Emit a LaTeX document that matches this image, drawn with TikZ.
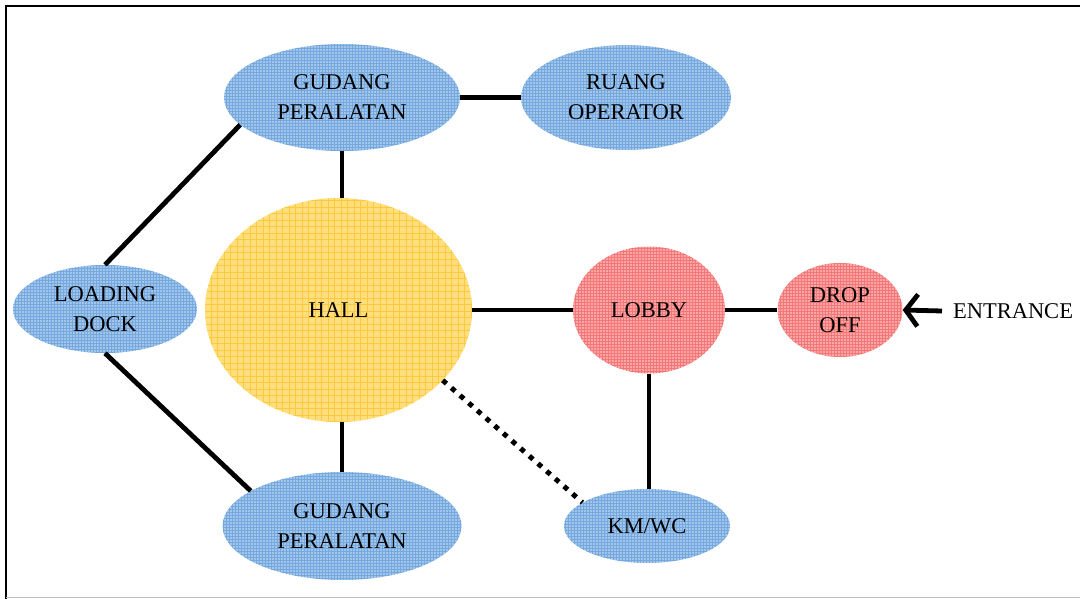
\documentclass[tikz,border=0pt]{standalone}
\usepackage{fontspec}
\setmainfont{Liberation Serif}
\usetikzlibrary{shapes.geometric,arrows.meta}

\definecolor{roomblue}{RGB}{162,198,234}
\definecolor{gridblue}{RGB}{60,132,208}
\definecolor{hallyellow}{RGB}{255,222,125}
\definecolor{gridyellow}{RGB}{255,188,20}
\definecolor{roomred}{RGB}{250,166,166}
\definecolor{gridred}{RGB}{236,50,50}

\tikzset{
  room/.style={ellipse, inner sep=0pt, align=center,
    font=\fontsize{22.5}{30}\selectfont},
  bluefill/.style={room, fill=roomblue,
    path picture={\draw[gridblue, opacity=.45, line width=.5pt]
      (path picture bounding box.south west) grid[step=3pt]
      (path picture bounding box.north east);}},
  redfill/.style={room, fill=roomred,
    path picture={\draw[gridred, opacity=.4, line width=.5pt]
      (path picture bounding box.south west) grid[step=3pt]
      (path picture bounding box.north east);}},
  hallfill/.style={room, fill=hallyellow,
    path picture={\draw[gridyellow, opacity=.6, line width=.7pt]
      (path picture bounding box.south west) grid[step=6.5pt]
      (path picture bounding box.north east);}},
  link/.style={line width=4.8pt},
  weaklink/.style={line width=5pt, dash pattern=on 5pt off 6.5pt},
  frameline/.style={line width=2.5pt},
}

\begin{document}
\begin{tikzpicture}[x=1pt, y=-1pt]
  \useasboundingbox (0,0) rectangle (1080,599);

  % page frame
  \draw[frameline] (1080,6) -- (6,6) -- (6,599);
  \draw[black!25, line width=1pt] (6,597.5) -- (1080,597.5);

  % rooms
  \node[bluefill, minimum width=236pt, minimum height=107pt] (gp1) at (342,97.5) {GUDANG\\PERALATAN};
  \node[bluefill, minimum width=210pt, minimum height=105pt] (ro) at (626,97.5) {RUANG\\OPERATOR};
  \node[hallfill, minimum width=267pt, minimum height=224pt] (hall) at (338.5,310) {HALL};
  \node[bluefill, minimum width=184pt, minimum height=88pt] (ld) at (105,309) {LOADING\\DOCK};
  \node[redfill, minimum width=152pt, minimum height=127pt] (lobby) at (649,310) {LOBBY};
  \node[redfill, minimum width=125pt, minimum height=94pt] (drop) at (840,310) {DROP\\OFF};
  \node[bluefill, minimum width=239pt, minimum height=108pt] (gp2) at (342,526) {GUDANG\\PERALATAN};
  \node[bluefill, minimum width=166pt, minimum height=74pt] (km) at (647,526) {KM/WC};
  \node[font=\fontsize{22.5}{30}\selectfont, inner sep=0pt] (entr) at (1013,311) {ENTRANCE};
  \coordinate (entfoot) at (942,311);

  % connections
  \draw[link] (gp1.east) -- (ro.west);
  \draw[link] (gp1.south) -- (gp1.south |- hall.north);
  \draw[link] (gp2.north) -- (gp2.north |- hall.south);
  \draw[link] (ld.north) -- (gp1.195);
  \draw[link] (ld.south) -- (gp2.159);
  \draw[link] (hall.east) -- (hall.east -| lobby.west);
  \draw[link] (lobby.east) -- (drop.west);
  \draw[link] (lobby.south) -- (lobby.south |- km.north);
  \draw[weaklink] (hall.326) -- (km.160);
  \draw[link, -{Straight Barb[length=12pt, width=32pt]}] (entfoot) -- (drop.east);
\end{tikzpicture}
\end{document}
